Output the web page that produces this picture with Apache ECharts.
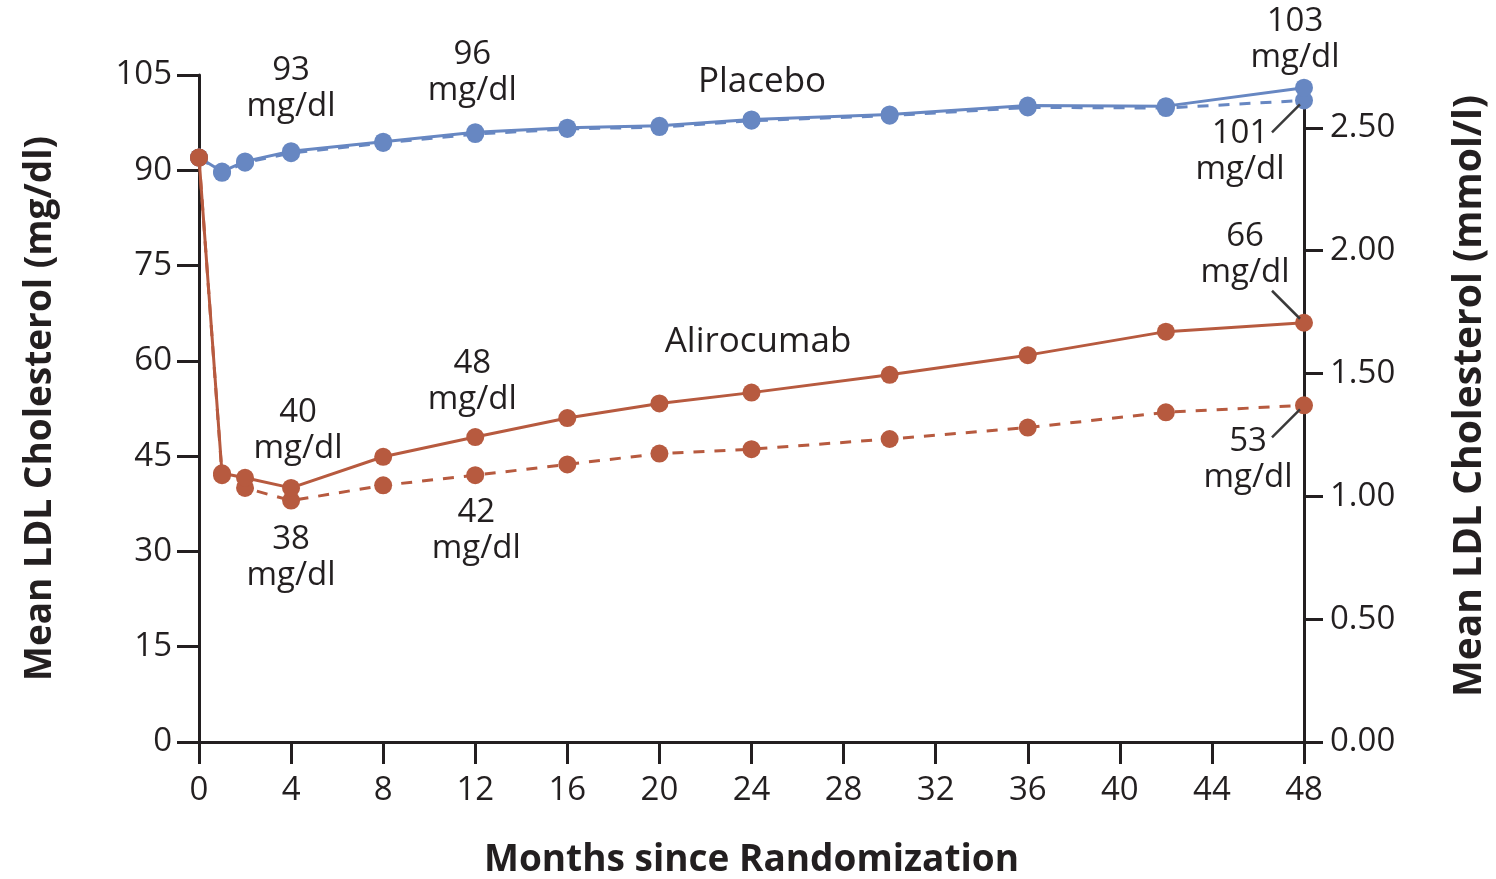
<!DOCTYPE html>
<html>
<head>
<meta charset="utf-8">
<title>Mean LDL Cholesterol</title>
<script src="https://cdn.jsdelivr.net/npm/echarts@6/dist/echarts.min.js"></script>
<style>
  html, body { margin: 0; padding: 0; background: #ffffff; }
  #chart { width: 1496px; height: 879px; }
</style>
</head>
<body>
<div id="chart"></div>
<script>
// Months since randomization at which LDL was measured
const months = [0, 1, 2, 4, 8, 12, 16, 20, 24, 30, 36, 42, 48];

// Mean LDL cholesterol, mg/dl
const placeboSolid     = [92, 89.8, 91.4, 93, 94.5, 96, 96.7, 97, 98, 98.8, 100.2, 100.1, 103];
const placeboDashed    = [92, 89.6, 91.2, 92.7, 94.3, 95.7, 96.5, 96.8, 97.8, 98.6, 99.9, 99.8, 101];
const alirocumabSolid  = [92, 42.3, 41.6, 40, 44.9, 48, 51, 53.3, 55, 57.8, 60.9, 64.6, 66];
const alirocumabDashed = [92, 42, 40, 38, 40.4, 42, 43.7, 45.4, 46.1, 47.7, 49.5, 51.9, 53];

// Axis tick values
const xTicks = [0, 4, 8, 12, 16, 20, 24, 28, 32, 36, 40, 44, 48];
const mgTicks = [0, 15, 30, 45, 60, 75, 90, 105];
const mmolTicks = [0, 0.5, 1.0, 1.5, 2.0, 2.5];

// Group names drawn beside the curves
const groupNames = ['Placebo', 'Alirocumab'];

const MG_PER_MMOL = 38.67;

// ---- layout & style ----
const FONT = "'Open Sans', 'Liberation Sans', sans-serif";
const INK = '#231f20';
const BLUE = '#6787c2';
const RED = '#b75a3f';
const GRID = { left: 199, right: 192, top: 75, bottom: 137 };
const CHART_H = 879;
const MG_MAX = mgTicks[mgTicks.length - 1];
const MMOL_LINE_TOP = 2.63;          // the mmol/l axis line stops a little below the plot top
const MMOL_TICK_TOP = mmolTicks[mmolTicks.length - 1];
const pxPerMg = (CHART_H - GRID.top - GRID.bottom) / MG_MAX;
// grids sharing the mg/dl grid's bottom edge, cut so that their top matches a given mmol/l value
const topForMmol = v => GRID.top + (MG_MAX - v * MG_PER_MMOL) * pxPerMg;

// Value callouts: which point, where its text block sits relative to it, and whether it has a leader line
const callouts = {
  placeboSolid:     [{ month: 4, dx: 0, dy: -63 }, { month: 12, dx: -3, dy: -60 }, { month: 48, dx: -9, dy: -48 }],
  placeboDashed:    [{ month: 48, dx: -64, dy: 51, leader: 1 }],
  alirocumabSolid:  [{ month: 4, dx: 7, dy: -57 }, { month: 12, dx: -3, dy: -55 }, { month: 48, dx: -59, dy: -68, leader: -1 }],
  alirocumabDashed: [{ month: 4, dx: 0, dy: 57 }, { month: 12, dx: 1, dy: 55 }, { month: 48, dx: -56, dy: 54, leader: 1 }]
};

const seriesValues = { placeboSolid, placeboDashed, alirocumabSolid, alirocumabDashed };

function buildData(key) {
  const vals = seriesValues[key];
  const notes = callouts[key] || [];
  return months.map((m, i) => {
    const note = notes.find(n => n.month === m);
    if (!note) return [m, vals[i]];
    return {
      value: [m, vals[i]],
      label: {
        show: true,
        position: 'inside',
        offset: [note.dx, note.dy],
        formatter: Math.round(vals[i]) + '\nmg/dl',
        color: INK,
        fontFamily: FONT,
        fontSize: 33,
        lineHeight: 36
      }
    };
  });
}

const leaderData = [];
Object.keys(callouts).forEach(key => {
  callouts[key].forEach(n => {
    if (n.leader) {
      const i = months.indexOf(n.month);
      leaderData.push([n.month, seriesValues[key][i], n.leader]);
    }
  });
});

function lineSeries(key, color, dashed, z) {
  return {
    type: 'line',
    name: key,
    xAxisIndex: 0,
    yAxisIndex: 0,
    data: buildData(key),
    symbol: 'circle',
    symbolSize: 18,
    showAllSymbol: true,
    z: z,
    itemStyle: { color: color },
    lineStyle: { color: color, width: 3, type: dashed ? [11, 10] : 'solid' },
    emphasis: { disabled: true },
    animation: false
  };
}

const axisLine = { show: true, onZero: false, lineStyle: { color: INK, width: 3 } };
const tickStyle = { color: INK, width: 3 };
const axisLabelBase = { color: INK, fontFamily: FONT, fontSize: 33 };
const nameStyle = { color: INK, fontFamily: FONT, fontWeight: 'bold' };
const hiddenX = gridIndex => ({ type: 'value', gridIndex: gridIndex, min: 0, max: 48, show: false });
const gridBox = top => ({
  left: GRID.left, right: GRID.right, top: top, bottom: GRID.bottom,
  containLabel: false, outerBoundsMode: 'none'
});

const chart = echarts.init(document.getElementById('chart'), null, { renderer: 'canvas' });

chart.setOption({
  backgroundColor: '#ffffff',
  animation: false,
  grid: [
    gridBox(GRID.top),
    gridBox(topForMmol(MMOL_LINE_TOP)),
    gridBox(topForMmol(MMOL_TICK_TOP))
  ],
  xAxis: [
    {
      type: 'value', gridIndex: 0, min: xTicks[0], max: xTicks[xTicks.length - 1], interval: 4,
      axisLine: axisLine,
      axisTick: { show: true, inside: false, length: 22, lineStyle: tickStyle },
      splitLine: { show: false },
      axisLabel: Object.assign({ margin: 32, inside: false }, axisLabelBase),
      name: 'Months since Randomization', nameLocation: 'middle', nameGap: 100,
      nameTextStyle: Object.assign({ fontSize: 37 }, nameStyle)
    },
    hiddenX(1),
    hiddenX(2)
  ],
  yAxis: [
    {
      type: 'value', gridIndex: 0, position: 'left', min: 0, max: MG_MAX, interval: 15,
      axisLine: axisLine,
      axisTick: { show: true, inside: false, length: 22, lineStyle: tickStyle },
      splitLine: { show: false },
      axisLabel: Object.assign({ margin: 27, inside: false }, axisLabelBase),
      name: 'Mean LDL Cholesterol (mg/dl)', nameLocation: 'middle', nameRotate: 90, nameGap: 140,
      nameTextStyle: Object.assign({ fontSize: 37 }, nameStyle)
    },
    {
      // mmol/l axis line and title
      type: 'value', gridIndex: 1, position: 'right', min: 0, max: MMOL_LINE_TOP,
      axisLine: axisLine,
      axisTick: { show: false },
      axisLabel: { show: false },
      splitLine: { show: false },
      name: 'Mean LDL Cholesterol (mmol/l)', nameLocation: 'middle', nameRotate: 90, nameGap: 146,
      nameTextStyle: Object.assign({ fontSize: 39, padding: [0, 0, 0, 46] }, nameStyle)
    },
    {
      // mmol/l ticks and labels
      type: 'value', gridIndex: 2, position: 'right', min: 0, max: MMOL_TICK_TOP, interval: 0.5,
      axisLine: { show: false, onZero: false },
      axisTick: { show: true, inside: false, length: 19, lineStyle: tickStyle },
      splitLine: { show: false },
      axisLabel: Object.assign({ margin: 26, inside: false, formatter: v => v.toFixed(2) }, axisLabelBase)
    }
  ],
  series: [
    lineSeries('placeboDashed', BLUE, true, 2),
    lineSeries('placeboSolid', BLUE, false, 3),
    lineSeries('alirocumabDashed', RED, true, 4),
    lineSeries('alirocumabSolid', RED, false, 5),
    {
      // leader lines tying outlying callouts to their points
      type: 'custom',
      xAxisIndex: 0,
      yAxisIndex: 0,
      silent: true,
      z: 6,
      data: leaderData,
      renderItem: (params, api) => {
        const p = api.coord([api.value(0), api.value(1)]);
        const s = api.value(2);
        return {
          type: 'line',
          shape: { x1: p[0] - 32, y1: p[1] + 32 * s, x2: p[0] - 4, y2: p[1] + 4 * s },
          style: { stroke: '#3a3a3a', lineWidth: 2.5 }
        };
      }
    }
  ],
  graphic: [
    {
      type: 'text', x: 762, y: 82, silent: true,
      style: { text: groupNames[0], fill: INK, font: '35px ' + FONT, align: 'center', verticalAlign: 'middle' }
    },
    {
      type: 'text', x: 758, y: 342, silent: true,
      style: { text: groupNames[1], fill: INK, font: '35px ' + FONT, align: 'center', verticalAlign: 'middle' }
    }
  ]
});
</script>
</body>
</html>
